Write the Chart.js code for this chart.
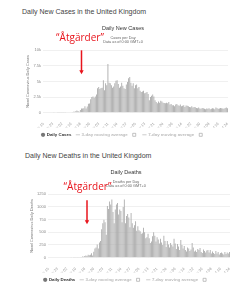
<!DOCTYPE html>
<html>
<head>
<meta charset="utf-8">
<script src="https://cdn.jsdelivr.net/npm/chart.js@4.4.1/dist/chart.umd.min.js"></script>
<style>
  html, body { margin: 0; padding: 0; background: #fff; }
  body { width: 241px; height: 299px; position: relative; overflow: hidden; font-family: "Liberation Sans", Arial, sans-serif; }
  .pageTitle { position: absolute; font-size: 7px; color: #444; white-space: nowrap; line-height: 8px; }
  .box { position: absolute; }
</style>
</head>
<body>
<div class="pageTitle" style="left:22px; top:8px;">Daily New Cases in the United Kingdom</div>
<div class="box" style="left:18px; top:22px; width:217px; height:125px;"><canvas id="chartCases"></canvas></div>
<div class="pageTitle" style="left:25px; top:152px;">Daily New Deaths in the United Kingdom</div>
<div class="box" style="left:22px; top:166px; width:216px; height:126px;"><canvas id="chartDeaths"></canvas></div>
<script>
// valeurs (un point par jour, à partir du 15 fév.)
const caseValues = [
  0, 0, 0, 0, 0, 0, 0, 0, 0, 4, 0, 0, 2, 5,
  3, 12, 4, 11, 34, 30, 48,
  46, 65, 50, 52, 83, 134, 117,
  208, 342, 251, 152, 407, 676, 643,
  714, 1035, 665, 967, 1427, 1452, 2129,
  2500, 2600, 2400, 2600, 2900, 3900, 4100,
  3800, 3950, 4000, 5200, 3600, 4700, 4400,
  7800,
  4800, 4700, 4400, 4000, 4200, 4700, 5100,
  5200, 4600, 4000, 4200, 4800, 4300, 3900,
  3800, 4500, 4900, 5500, 5700, 4800, 4300,
  4700, 3900, 4400, 4500, 3900, 4100, 3500,
  3300, 3400, 3500, 3100, 3200, 3300, 3000,
  2000, 2500, 2700, 2900, 2600, 2000, 1700,
  1500, 1800, 1600, 1900, 1800, 1600, 1550,
  1500, 1600, 1500, 1700, 1300, 1400, 1200,
  1200, 1000, 1300, 1400, 1200, 1100, 1300,
  1000, 1100, 1200, 900, 1150, 1100, 1000,
  900, 850, 1000, 800, 900, 850, 750,
  700, 800, 650, 600, 750, 700, 600,
  550, 650, 600, 700, 550, 600, 700,
  650, 550, 800, 700, 600, 650, 750,
  700, 650, 600, 750, 800, 700
];

const deathValues = [
  0, 0, 0, 0, 0, 0, 0, 0, 0, 0, 0, 0, 0, 0, 0, 0, 0, 0, 0, 0, 1,
  0, 1, 2, 1, 2, 3, 1,
  10, 14, 20, 16, 33, 40, 33,
  56, 48, 54, 87, 41, 115, 181,
  200, 260, 180, 300, 330, 560, 680,
  750, 700, 450, 1020, 960, 1110, 1050,
  1150,
  900, 680, 950, 1050, 1080, 850, 950,
  920, 700, 1000, 1150, 680, 820, 860,
  790, 600, 880, 680, 590, 640, 720,
  530, 620, 540, 520, 470, 480, 590,
  500, 380, 400, 470, 380, 290, 320,
  420, 500, 430, 320, 400, 360, 280,
  370, 300, 250, 430, 330, 210, 330,
  260, 200, 290, 250, 220, 370, 280,
  170, 270, 220, 150, 350, 250, 180,
  230, 150, 120, 200, 180, 130, 160,
  290, 200, 120, 140, 110, 170, 150,
  190, 110, 90, 160, 130, 100, 140,
  150, 100, 150, 80, 120, 90, 70,
  130, 80, 110, 60, 90, 100, 80,
  60, 110, 70, 100, 80, 110
];

const tickLabels = ["Feb 15", "Feb 23", "Mar 02", "Mar 10", "Mar 18", "Mar 26", "Apr 03",
  "Apr 11", "Apr 19", "Apr 27", "May 05", "May 13", "May 21", "May 29", "Jun 06",
  "Jun 14", "Jun 22", "Jun 30", "Jul 08", "Jul 16", "Jul 24"];

const monthNames = ["Jan", "Feb", "Mar", "Apr", "May", "Jun", "Jul", "Aug"];
const days = caseValues.map((v, i) => {
  const d = new Date(2020, 1, 15 + i);
  return monthNames[d.getMonth()] + " " + String(d.getDate()).padStart(2, "0");
});

Chart.defaults.font.family = "'Liberation Sans', Arial, sans-serif";
Chart.defaults.animation = false;

// flèche + texte rouge
const arrowPlugin = {
  id: "arrowNote",
  afterDraw(chart, args, opts) {
    const c = chart.ctx;
    const x = chart.scales.x.getPixelForValue(opts.index);
    const top = chart.chartArea.top;
    c.save();
    c.fillStyle = "#e8141c";
    c.strokeStyle = "#e8141c";
    c.font = "10px 'Open Sans', sans-serif";
    c.textAlign = "center";
    c.textBaseline = "middle";
    c.fillText("\u201CÅtgärder\u201D", x + opts.textDx, top + opts.textDy);
    c.lineWidth = 1.5;
    c.beginPath();
    c.moveTo(x, top + opts.from);
    c.lineTo(x, top + opts.to - 3);
    c.stroke();
    c.beginPath();
    c.moveTo(x - 2.2, top + opts.to - 4);
    c.lineTo(x + 2.2, top + opts.to - 4);
    c.lineTo(x, top + opts.to);
    c.closePath();
    c.fill();
    c.restore();
  }
};

function legendItems(mainLabel) {
  return () => [
    { text: mainLabel, fillStyle: "#777", strokeStyle: "#777", lineWidth: 0, pointStyle: "circle", fontColor: "#333" },
    { text: "3-day moving average", fillStyle: "#ccc", strokeStyle: "#ccc", lineWidth: 1, pointStyle: "line", fontColor: "#bbb" },
    { text: "", fillStyle: "#fff", strokeStyle: "#999", lineWidth: 0.6, pointStyle: "rect", fontColor: "#bbb" },
    { text: "7-day moving average", fillStyle: "#ccc", strokeStyle: "#ccc", lineWidth: 1, pointStyle: "line", fontColor: "#bbb" },
    { text: "", fillStyle: "#fff", strokeStyle: "#999", lineWidth: 0.6, pointStyle: "rect", fontColor: "#bbb" }
  ];
}

function makeChart(id, values, cfg) {
  return new Chart(document.getElementById(id), {
    type: "bar",
    data: {
      labels: days,
      datasets: [{
        label: cfg.series,
        data: values,
        backgroundColor: "#a8a8a8",
        barPercentage: 0.75,
        categoryPercentage: 1
      }]
    },
    options: {
      maintainAspectRatio: false,
      responsive: true,
      layout: { padding: { left: 0, right: cfg.padRight, top: 0, bottom: 0 } },
      plugins: {
        title: {
          display: true,
          text: cfg.title,
          color: "#333",
          font: { size: 5.5, weight: "normal" },
          padding: { top: 3.6, bottom: 3 }
        },
        subtitle: {
          display: true,
          text: [cfg.sub, "Data as of 0:00 GMT+0"],
          color: "#666",
          font: { size: 3.8 },
          padding: { top: 0, bottom: 6 }
        },
        legend: {
          position: "bottom",
          onClick: null,
          labels: {
            usePointStyle: true,
            boxWidth: 3,
            boxHeight: 3,
            padding: 5,
            font: { size: 4.4, weight: "bold" },
            generateLabels: legendItems(cfg.series)
          }
        },
        tooltip: { enabled: false },
        arrowNote: cfg.note
      },
      scales: {
        x: {
          grid: { display: false },
          border: { display: false },
          ticks: {
            autoSkip: false,
            maxRotation: 45,
            minRotation: 45,
            color: "#999",
            font: { size: 3.8 },
            padding: 1,
            callback: function (v, i) {
              return tickLabels.includes(days[i]) ? days[i] : "";
            }
          },
          afterFit: s => { s.height = 15; }
        },
        y: {
          min: 0,
          max: cfg.max,
          ticks: {
            stepSize: cfg.step,
            color: "#888",
            font: { size: 4 },
            padding: 2,
            callback: cfg.fmt
          },
          grid: { color: "#e6e6e6", lineWidth: 0.6, drawTicks: false },
          border: { display: false },
          title: {
            display: true,
            text: cfg.axisTitle,
            color: "#777",
            font: { size: 3.8 },
            padding: { top: 8, bottom: 0 }
          },
          afterFit: s => { s.width = cfg.yWidth; }
        }
      }
    },
    plugins: [arrowPlugin]
  });
}

makeChart("chartCases", caseValues, {
  series: "Daily Cases",
  title: "Daily New Cases",
  sub: "Cases per Day",
  axisTitle: "Novel Coronavirus Daily Cases",
  max: 10000,
  step: 2500,
  fmt: v => v === 0 ? "0" : (v / 1000) + "k",
  yWidth: 25,
  padRight: 7,
  note: { index: 33, textDx: -1.5, textDy: -12, from: 0, to: 24 }
});

makeChart("chartDeaths", deathValues, {
  series: "Daily Deaths",
  title: "Daily Deaths",
  sub: "Deaths per Day",
  axisTitle: "Novel Coronavirus Daily Deaths",
  max: 1250,
  step: 250,
  fmt: v => String(v),
  yWidth: 26,
  padRight: 8,
  note: { index: 34, textDx: 0.5, textDy: -7, from: 6, to: 30 }
});
</script>
</body>
</html>
